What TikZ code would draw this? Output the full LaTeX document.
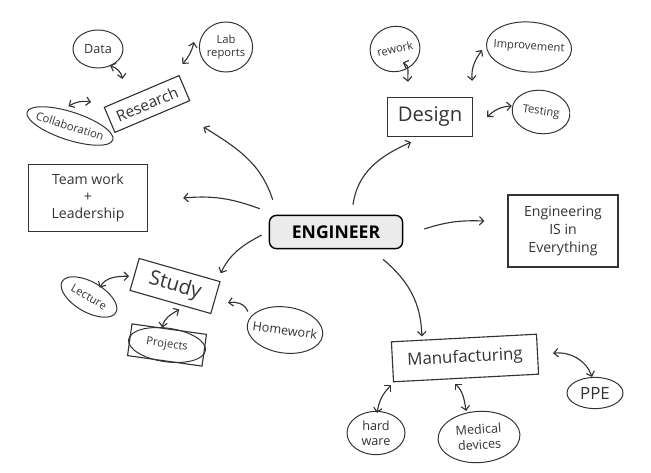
\documentclass[tikz,border=0pt]{standalone}
\usepackage{fontspec}
\setmainfont{Open Sans}
\usepackage{tikz}
\usetikzlibrary{shapes.geometric,arrows.meta}
\definecolor{ink}{HTML}{333333}
\definecolor{hubfill}{HTML}{EBEBEB}
\tikzset{>={Straight Barb[length=3pt,width=6pt]}}
\tikzset{
  hub/.style={draw=black,line width=1pt,fill=hubfill,rounded corners=5pt,inner sep=-50pt,
    font=\fontsize{12.5}{14}\selectfont\bfseries},
  topic/.style={draw=ink,line width=0.8pt,text=ink,inner sep=-50pt,align=center},
  bubble/.style={ellipse,draw=ink,line width=0.7pt,text=ink,inner sep=-50pt,align=center,font=\small},
  link/.style={draw=ink,line width=0.8pt,->},
  tie/.style={draw=ink,line width=0.8pt,<->}
}

\begin{document}
\begin{tikzpicture}[x=0.025cm,y=-0.025cm]
\useasboundingbox (0,0) rectangle (651,473);

  % centre
  \node[hub,minimum width=3.33cm,minimum height=0.83cm] (eng) at (336,232) {ENGINEER};

  % research corner
  \node[topic,rotate=23,minimum width=2.03cm,minimum height=0.68cm,font=\fontsize{11}{13}\selectfont] (res) at (147,104) {Research};
  \node[bubble,minimum width=1.25cm,minimum height=0.95cm] (data) at (98,49) {Data};
  \node[bubble,minimum width=1.33cm,minimum height=1.25cm,font=\footnotesize] (lab) at (226,47) {Lab\\reports};
  \node[bubble,rotate=-18,minimum width=2.25cm,minimum height=0.7cm,font=\footnotesize] (collab) at (70,126) {Collaboration};

  \node[topic,minimum width=2.98cm,minimum height=1.68cm,font=\fontsize{10}{12}\selectfont] (team) at (88,198) {Team work\\+\\Leadership};

  % study corner
  \node[topic,rotate=-16,minimum width=2.1cm,minimum height=0.83cm,font=\Large] (study) at (175,286) {Study};
  \node[bubble,rotate=-30,minimum width=1.55cm,minimum height=0.75cm,font=\footnotesize] (lect) at (89,297) {Lecture};
  \node[topic,rotate=-8,minimum width=1.88cm,minimum height=0.8cm,font=\footnotesize] (proj) at (167,345) {Projects};
  \draw[draw=ink,line width=0.7pt,rotate around={-8:(proj.center)}] (proj.center) ellipse (0.97cm and 0.42cm);
  \node[bubble,rotate=-8,minimum width=1.9cm,minimum height=1.15cm] (hw) at (285,330) {Homework};

  % design corner
  \node[topic,minimum width=2.13cm,minimum height=0.98cm,font=\Large] (design) at (430,117) {Design};
  \node[bubble,rotate=12,minimum width=1.25cm,minimum height=1.13cm,font=\footnotesize] (rework) at (395,49) {rework};
  \node[bubble,rotate=-4,minimum width=2.13cm,minimum height=1.25cm,font=\footnotesize] (improv) at (529,47) {Improvement};
  \node[bubble,rotate=-8,minimum width=1.45cm,minimum height=1.08cm,font=\footnotesize] (test) at (541,112) {Testing};

  \node[topic,minimum width=2.75cm,minimum height=1.8cm,font=\fontsize{10}{13}\selectfont] (every) at (563,231) {Engineering\\IS in\\Everything};

  % manufacturing corner
  \node[topic,rotate=3,minimum width=3.63cm,minimum height=1.0cm,font=\large] (manu) at (465,358) {Manufacturing};
  \node[bubble,minimum width=1.4cm,minimum height=0.78cm,font=\large] (ppe) at (595,393) {PPE};
  \node[bubble,minimum width=1.45cm,minimum height=1.08cm] (hard) at (376,433) {hard\\ware};
  \node[bubble,rotate=4,minimum width=2.05cm,minimum height=1.28cm] (med) at (479,437) {Medical\\devices};

  % from the centre
  \draw[link] ([shift={(4,-15)}]eng.north west) to[out=108,in=-32] ([shift={(13,26)}]res.south east);
  \draw[link] ([shift={(-9,-6)}]eng.north west) to[out=160,in=5] ([shift={(35,0)}]team.east);
  \draw[link] ([shift={(-7,3)}]eng.west) to[out=208,in=64] ([shift={(0,-8)}]study.north east);
  \draw[link] ([shift={(17,-10)}]eng.north) to[out=82,in=-156] ([shift={(-19,5)}]design.south);
  \draw[link] ([shift={(21,-3)}]eng.east) to[out=18,in=178] ([shift={(-23,-10)}]every.west);
  \draw[link] ([shift={(47,10)}]eng.south) to[out=-40,in=92] ([shift={(-42,-1)}]manu.north);

  % around the topics
  \draw[tie] ([shift={(12,-3)}]data.south) to[out=-20,in=100] ([shift={(-19,-12)}]res.north);
  \draw[tie] ([shift={(-5,-5)}]lab.west) to[bend left=15] ([shift={(3,-11)}]res.north east);
  \draw[tie] ([shift={(-6,-6)}]collab.north) to[out=30,in=170] ([shift={(-18,-18)}]res.west);
  \draw[tie] ([shift={(3,-9)}]rework.south) to[out=-20,in=95] ([shift={(-22,-15)}]design.north);
  \draw[tie] ([shift={(-4,6)}]improv.west) to[out=-125,in=95] ([shift={(-1,-16)}]design.north east);
  \draw[tie] ([shift={(14,0)}]design.east) to[bend left=20] ([shift={(0,-2)}]test.west);
  \draw[tie] ([shift={(3,4)}]lect.north) to[out=60,in=180] ([shift={(-5,2)}]study.west);
  \draw[tie] ([shift={(-7,-1)}]proj.north) to[out=80,in=-150] ([shift={(9,7)}]study.south);
  \draw[link] ([shift={(1,-13)}]hw.west) to[out=110,in=10] ([shift={(12,5)}]study.east);
  \draw[tie] ([shift={(15,-1)}]manu.east) to[out=5,in=110] ([shift={(-3,0)}]ppe.north);
  \draw[tie] ([shift={(-2,3)}]manu.south west) to[out=-135,in=80] ([shift={(1,2)}]hard.north);
  \draw[tie] ([shift={(-11,5)}]manu.south) to[out=-45,in=100] ([shift={(-11,0)}]med.north);

\end{tikzpicture}
\end{document}
